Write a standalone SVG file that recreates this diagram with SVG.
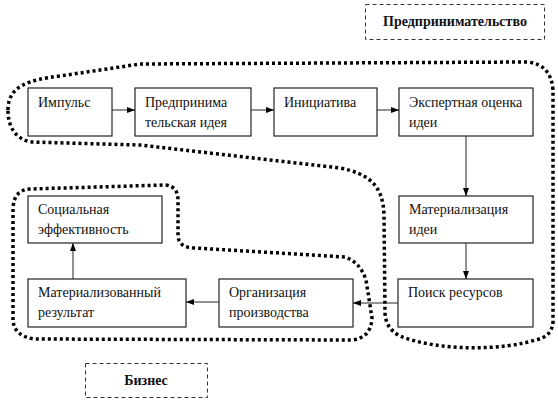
<svg xmlns="http://www.w3.org/2000/svg" width="558" height="402" viewBox="0 0 558 402">
<defs>
<marker id="ah" markerWidth="8" markerHeight="6" refX="8" refY="3" orient="auto" markerUnits="userSpaceOnUse">
<path d="M0,0 L8,3 L0,6 Z" fill="#000"/>
</marker>
<style>
.box{fill:#fff;stroke:#222;stroke-width:1.2}
.t{font-family:"Liberation Serif","Times New Roman",serif;font-size:14px;fill:#111}
.b{font-family:"Liberation Serif","Times New Roman",serif;font-size:14px;font-weight:bold;fill:#111;text-anchor:middle}
.lbl{fill:#fff;stroke:#333;stroke-width:1;stroke-dasharray:4 3}
.loop{fill:none;stroke:#000;stroke-width:3.5;stroke-dasharray:3 3}
.c{fill:none;stroke:#222;stroke-width:1;marker-end:url(#ah)}
</style>
</defs>
<rect width="558" height="402" fill="#fff"/>
<g id="loops">
<path class="loop" d="M8,110 C8,86 28,80 60,76 L140,64 L527,62 Q551,64 553,90 L553,322 Q552,337 535,340 C505,350 440,352 400,336 Q385,328 385,312 L384,215 C383,186 370,174 340,168 L140,145 L30,142 Q8,136 8,110 Z"/>
<path class="loop" d="M13,320 L13,208 Q14,190 30,189 L165,185 Q178,186 178,200 L178,236 Q179,248 195,248 L345,257 Q360,262 366,280 L372,318 Q371,338 352,340 L34,339 Q14,336 13,320 Z"/>
</g>
<g id="label-entrepreneurship">
<rect class="lbl" x="365.5" y="4.5" width="179" height="35"/>
<text class="b" x="455" y="26">Предпринимательство</text>
</g>
<g id="label-business">
<rect class="lbl" x="85.5" y="363.5" width="122" height="34"/>
<text class="b" x="146" y="385">Бизнес</text>
</g>
<g id="n1">
<rect class="box" x="28" y="88" width="84" height="48"/>
<text class="t" x="38" y="107">Импульс</text>
</g>
<g id="n2">
<rect class="box" x="135" y="88" width="116" height="48"/>
<text class="t" x="145" y="107">Предпринима</text>
<text class="t" x="145" y="127">тельская идея</text>
</g>
<g id="n3">
<rect class="box" x="274" y="88" width="103" height="48"/>
<text class="t" x="284" y="107">Инициатива</text>
</g>
<g id="n4">
<rect class="box" x="399" y="88" width="134" height="48"/>
<text class="t" x="409" y="107">Экспертная оценка</text>
<text class="t" x="409" y="127">идеи</text>
</g>
<g id="n5">
<rect class="box" x="399" y="196" width="134" height="47"/>
<text class="t" x="409" y="214">Материализация</text>
<text class="t" x="409" y="234">идеи</text>
</g>
<g id="n6">
<rect class="box" x="398" y="279" width="135" height="48"/>
<text class="t" x="408" y="297">Поиск ресурсов</text>
</g>
<g id="n7">
<rect class="box" x="219" y="279" width="134" height="48"/>
<text class="t" x="229" y="297">Организация</text>
<text class="t" x="229" y="317">производства</text>
</g>
<g id="n8">
<rect class="box" x="28" y="279" width="158" height="48"/>
<text class="t" x="38" y="297">Материализованный</text>
<text class="t" x="38" y="317">результат</text>
</g>
<g id="n9">
<rect class="box" x="28" y="196" width="134" height="47"/>
<text class="t" x="38" y="214">Социальная</text>
<text class="t" x="38" y="234">эффективность</text>
</g>
<g id="connectors">
<line class="c" x1="112" y1="110" x2="135" y2="110"/>
<line class="c" x1="251" y1="110" x2="274" y2="110"/>
<line class="c" x1="377" y1="110" x2="399" y2="110"/>
<line class="c" x1="466" y1="136" x2="466" y2="196"/>
<line class="c" x1="466" y1="243" x2="466" y2="279"/>
<line class="c" x1="398" y1="303" x2="353" y2="303"/>
<line class="c" x1="219" y1="302" x2="186" y2="302"/>
<line class="c" x1="73" y1="279" x2="73" y2="243"/>
</g>
</svg>
